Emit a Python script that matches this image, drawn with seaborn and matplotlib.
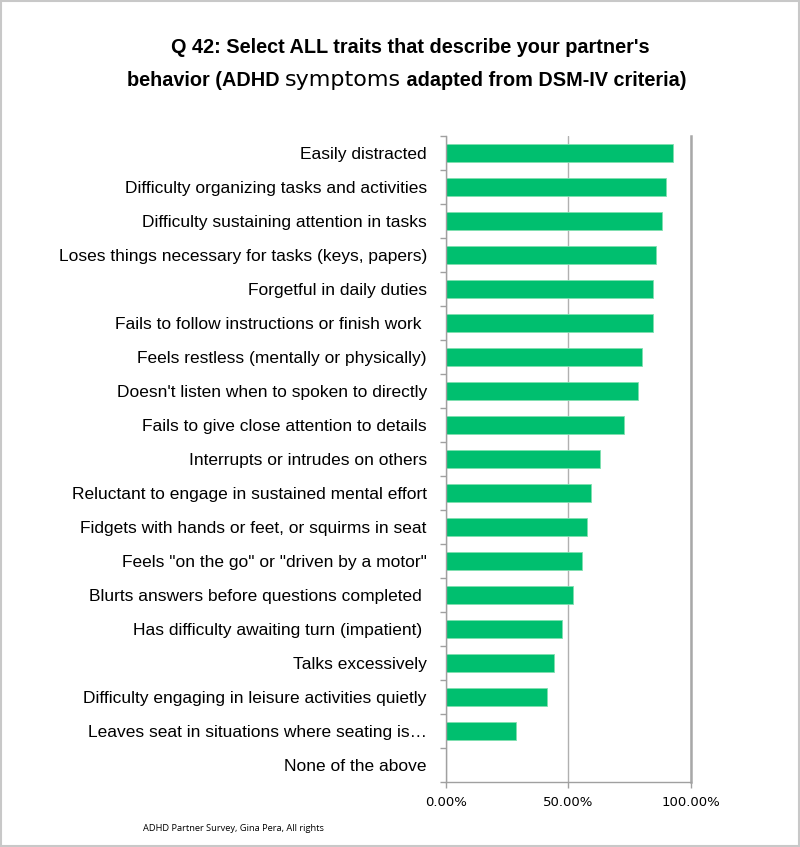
import matplotlib
matplotlib.use("Agg")
import matplotlib.pyplot as plt
import seaborn as sns
import pandas as pd
from matplotlib.ticker import FuncFormatter
from matplotlib.patches import Rectangle

traits = [
    "Easily distracted",
    "Difficulty organizing tasks and activities",
    "Difficulty sustaining attention in tasks",
    "Loses things necessary for tasks (keys, papers)",
    "Forgetful in daily duties",
    "Fails to follow instructions or finish work ",
    "Feels restless (mentally or physically)",
    "Doesn't listen when to spoken to directly",
    "Fails to give close attention to details",
    "Interrupts or intrudes on others",
    "Reluctant to engage in sustained mental effort",
    "Fidgets with hands or feet, or squirms in seat",
    "Feels \"on the go\" or \"driven by a motor\"",
    "Blurts answers before questions completed ",
    "Has difficulty awaiting turn (impatient) ",
    "Talks excessively",
    "Difficulty engaging in leisure activities quietly",
    "Leaves seat in situations where seating is\u2026",
    "None of the above",
]
percent = [92.7, 89.9, 88.2, 85.5, 84.5, 84.5, 80.0, 78.3, 72.8, 62.9,
           59.2, 57.5, 55.7, 52.0, 47.5, 44.0, 41.3, 28.7, 0.0]

df = pd.DataFrame({"trait": traits, "pct": percent})

sns.set_style("white")
plt.rcParams["font.family"] = ["Liberation Sans", "DejaVu Sans"]
plt.rcParams["text.color"] = "black"

fig = plt.figure(figsize=(8, 8.47), dpi=100)
ax = fig.add_axes([0.557, 0.0767, 0.307, 0.7627])

sns.barplot(data=df, x="pct", y="trait", color="#00BF6F", width=0.55,
            saturation=1, ax=ax, edgecolor="#7fe0b0", linewidth=0.6)

ax.set_xlim(0, 100)
ax.set_xticks([0, 50, 100])
ax.xaxis.set_major_formatter(FuncFormatter(lambda v, p: f"{v:.2f}%"))
ax.set_xlabel("")
ax.set_ylabel("")
ax.grid(axis="x", color="#b0b0b0", linewidth=1)
ax.set_axisbelow(True)

ax.spines["top"].set_visible(False)
for s in ["left", "bottom"]:
    ax.spines[s].set_color("#a0a0a0")
    ax.spines[s].set_linewidth(1)
ax.spines["right"].set_color("#a8a8a8")
ax.spines["right"].set_linewidth(1.8)

ax.tick_params(axis="y", left=True, length=0, pad=13.5, labelsize=12.5,
               labelcolor="black")
ax.tick_params(axis="x", bottom=True, length=4, width=1, color="#a0a0a0", pad=6,
               labelsize=9.5, labelcolor="black")
for lab in ax.get_xticklabels():
    lab.set_family("DejaVu Sans")

# small ticks between categories on the y axis
n = len(traits)
ax.set_yticks([i + 0.5 for i in range(-1, n)], minor=True)
ax.tick_params(axis="y", which="minor", left=True, length=4.5, width=1,
               color="#a0a0a0", direction="out")
ax.set_ylim(n - 0.5, -0.5)

# title, with "symptoms" set in a different, lighter face
fig.text(0.5125, 0.944, "Q 42: Select ALL traits that describe your partner's",
         ha="center", va="center", fontsize=14.3, fontweight="bold")
fig.canvas.draw()
r = fig.canvas.get_renderer()
parts = [("behavior (ADHD ", "bold", "Liberation Sans", 14.3),
         ("symptoms", "normal", "DejaVu Sans", 16),
         (" adapted from DSM-IV criteria)", "bold", "Liberation Sans", 14.3)]
texts = [fig.text(0, 0.905, t, ha="left", va="center", fontsize=fs,
                  fontweight=w, family=f) for t, w, f, fs in parts]
widths = [t.get_window_extent(r).width for t in texts]
x = (fig.bbox.width - sum(widths)) / 2 + 7
for t, w in zip(texts, widths):
    t.set_x(x / fig.bbox.width)
    x += w

fig.text(0.179, 0.022, "ADHD Partner Survey, Gina Pera, All rights",
         fontsize=6.7, family="Open Sans", ha="left", va="center")

fig.patches.append(Rectangle((0.001, 0.001), 0.998, 0.998, transform=fig.transFigure,
                             fill=False, edgecolor="#c8c8c8", linewidth=1.5))

fig.savefig("out.png", dpi=100)
